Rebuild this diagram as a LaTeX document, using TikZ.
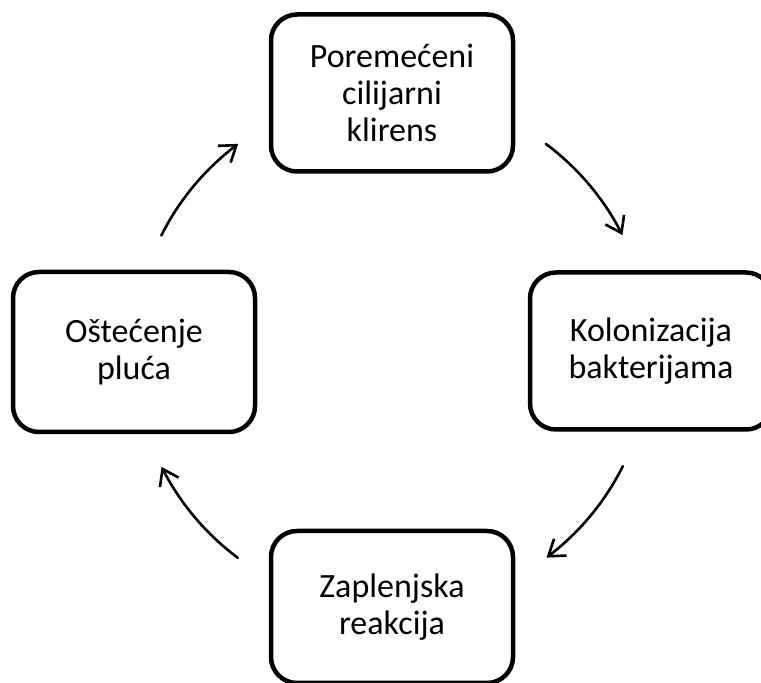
\documentclass[tikz,border=0pt]{standalone}
\usepackage{fontspec}
\setmainfont{Carlito}
\usetikzlibrary{arrows.meta,bending,calc}
\begin{document}
\begin{tikzpicture}[x=1pt,y=1pt,
  box/.style={draw=black,line width=4.5pt,rounded corners=26pt,
    minimum width=242pt,minimum height=157pt,inner sep=0pt,
    text width=236pt,align=center,
    font=\fontsize{34}{37}\selectfont},
  arr/.style={line width=2.6pt,line cap=round,
    -{Straight Barb[length=15pt,width=21pt,flex]}}]
\useasboundingbox (0,0) rectangle (761,683);
\node[box] (top) at (392,590) {Poremećeni\\cilijarni\\klirens};
\node[box] (right) at (651,332) {Kolonizacija\\bakterijama};
\node[box,minimum height=152pt] (bottom) at (392,76) {Zaplenjska\\reakcija};
\node[box,minimum height=160pt] (left) at (134,331) {Oštećenje\\pluća};
\coordinate (c) at (392,332);
\coordinate (a1) at ($(c)+(153.4:258)$);
\coordinate (a2) at ($(c)+(53.4:258)$);
\coordinate (a3) at ($(c)+(-26.5:258)$);
\coordinate (a4) at ($(c)+(-126.7:258)$);
\draw[arr] (a1) arc[start angle=153.4,end angle=126.6,radius=258];
\draw[arr] (a2) arc[start angle=53.4,end angle=26.7,radius=258];
\draw[arr] (a3) arc[start angle=-26.5,end angle=-53.2,radius=258];
\draw[arr] (a4) arc[start angle=-126.7,end angle=-153.3,radius=258];
\end{tikzpicture}
\end{document}
